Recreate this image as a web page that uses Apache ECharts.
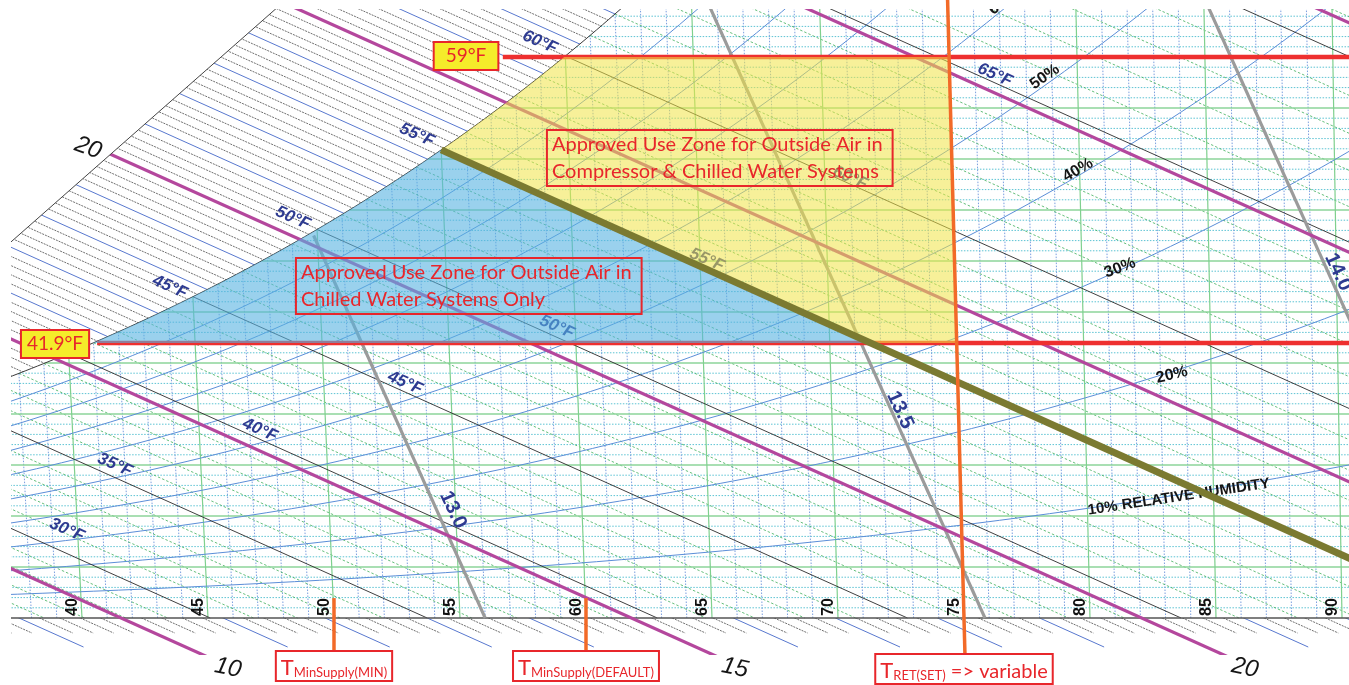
<!DOCTYPE html>
<html>
<head>
<meta charset="utf-8">
<script src="https://cdn.jsdelivr.net/npm/echarts@6/dist/echarts.min.js"></script>
<style>
html,body{margin:0;padding:0;background:#ffffff;}
#chart{width:1349px;height:685px;}
</style>
</head>
<body>
<div id="chart"></div>
<script>
// ================= values =================
// dry-bulb temperature (deg F) ticks along the bottom
const dryBulbTicks = [40, 45, 50, 55, 60, 65, 70, 75, 80, 85, 90];
// humidity ratio grid (0.001 lb/lb)
const humidityMajor = [1, 2, 3, 4, 5, 6, 7, 8, 9, 10, 11, 12];
// relative humidity curves
const rhLevels = [0.1, 0.2, 0.3, 0.4, 0.5, 0.6, 0.7, 0.8, 0.9];
// wet-bulb lines (deg F); 55 is the highlighted olive line
const wetBulbMajor = [25, 30, 35, 40, 45, 50, 60, 65, 70];
const wetBulbHighlight = 55;
// enthalpy lines (Btu/lb)
const enthalpyMajor = [10, 15, 20, 25, 30, 35];
const enthalpyLabels = ['10', '15', '20', '20'];
const enthalpyLabelPos = [[45.79, -0.98], [65.91, -0.98], [86.15, -0.98], [40.24, 9.216]];
// enthalpy scale: [reference Btu/lb, dry-bulb at W=0, deg F per Btu/lb]
const enthalpyRef = [10, 41.55, 4.05];
// outer edge of the enthalpy scale
const enthalpyEdge = [[37.18, 7.373], [47.68, 11.94]];
// specific volume lines (ft3/lb)
const volumeLevels = [13.0, 13.5, 14.0];
const volumeLabels = ['13.0', '13.5', '14.0'];
const volumeLabelPos = [[54.72, 2.118], [72.46, 4.078], [89.84, 6.784]];
// wet-bulb labels
const wbLabels = ['30°F', '35°F', '40°F', '45°F', '50°F', '55°F', '60°F', '65°F', '45°F', '50°F', '55°F', '60°F'];
const wbLabelPos = [[39.40, 1.725], [41.31, 3.0], [47.06, 3.686], [52.82, 4.608], [58.85, 5.706], [64.80, 7.02],
                    [70.48, 8.627], [76.23, 10.647], [43.49, 6.49], [48.37, 7.84], [53.29, 9.47], [58.17, 11.29]];
// relative humidity labels
const rhLabels = ['60%', '50%', '40%', '30%', '20%', '10% RELATIVE HUMIDITY'];
const rhLabelPos = [[76.55, 12.08], [78.21, 10.61], [79.52, 8.784], [81.19, 6.863], [83.25, 4.765], [83.53, 2.373]];
const rhLabelRot = [38, 35, 30, 21, 13, 8.5];
// annotation values
const dewLow = 5.392, dewHigh = 11.0;          // humidity ratio of the two red limit lines
const redStartX = [40.6, 56.7];
const dewBoxText = ['41.9°F', '59°F'];
const dewBoxPos = [[38.93, 5.373], [55.24, 11.02]];
const zoneTexts = ['Approved Use Zone for Outside Air in\nCompressor & Chilled Water Systems',
                   'Approved Use Zone for Outside Air in\nChilled Water Systems Only'];
const zoneTextPos = [[58.45, 9.569], [48.49, 7.059]];
const tRet = 75, tSupplyMin = 50, tSupplyDefault = 60;
const supplyTickTop = 0.39, labelTop = -0.667;

// ================= chart frame =================
const X_MIN = 37.183, X_MAX = 90.278, Y_MIN = -0.7255, Y_MAX = 11.941;
const P = 101.325;
const SLOPE = -0.2222;
function psat(T) { const c = (T - 32) / 1.8; return c >= 0 ? 0.61094 * Math.exp(17.625 * c / (c + 243.04)) : 0.61115 * Math.exp(22.452 * c / (272.55 + c)); }
function wRH(T, rh) { const pw = rh * psat(T); return 1000 * 0.622 * pw / (P - pw); }
function dewT(Y) { const w = Y / 1000, pw = w * P / (0.622 + w); let L = Math.log(pw / 0.61094), c = 243.04 * L / (17.625 - L); if (c < 0) { L = Math.log(pw / 0.61115); c = 272.55 * L / (22.452 - L); } return c * 1.8 + 32; }
function skew(T) { return 0.095 - 0.001375 * (T - 45); }
function proj(T, Y) { return [T - skew(T) * Y, Y]; }
function steps(a, b, s) { const r = []; for (let i = 0; ; i++) { const v = +(a + i * s).toFixed(4); if (v > b + 1e-9) break; r.push(v); } return r; }
function hX(h) { return enthalpyRef[1] + enthalpyRef[2] * (h - enthalpyRef[0]); }
function alongH(x0, Y) { return [x0 + Y / SLOPE, Y]; }
function satPts(a, b, s) { const r = steps(a, b, s).map(T => proj(T, wRH(T, 1))); r.push(proj(b, wRH(b, 1))); return r; }
function wbLine(t) { const S = proj(t, wRH(t, 1)); return [S, [S[0] + S[1] / (-SLOPE), 0]]; }
function isInt(v) { return Math.abs(v - Math.round(v)) < 1e-6; }

function polySeries(lines, style, z, clip, type) {
  return {
    type: 'custom', coordinateSystem: 'cartesian2d', silent: true, z: z, clip: clip !== false,
    data: lines.map((l, i) => [l[0][0], l[0][1], i]),
    renderItem: function (p, api) {
      const pts = lines[p.dataIndex].map(q => api.coord(q));
      return { type: type || 'polyline', shape: { points: pts }, style: Object.assign({ fill: null }, style) };
    }
  };
}
function textSeries(items, z, clip) {
  return {
    type: 'custom', coordinateSystem: 'cartesian2d', silent: true, z: z, clip: !!clip,
    data: items.map((it, i) => [it.pos[0], it.pos[1], i]),
    renderItem: function (p, api) {
      const it = items[p.dataIndex];
      const c = api.coord(it.pos);
      return {
        type: 'text', x: c[0] + (it.dx || 0), y: c[1] + (it.dy || 0), rotation: (it.rot || 0) * Math.PI / 180,
        style: Object.assign({ text: it.text, align: 'center', verticalAlign: 'middle' }, it.style)
      };
    }
  };
}

// ---------- hatch of the enthalpy scale ----------
const fineH = steps(8, 30, 0.2);
const hatchBlack = [], hatchBlue = [], tickBlack = [], tickBlue = [];
fineH.forEach(h => {
  if (isInt(h / 5)) return;
  const x0 = hX(h);
  const up = [alongH(x0, 14), [x0, 0]];
  if (isInt(h)) { hatchBlue.push(up); tickBlue.push([[x0, 0], alongH(x0, -0.569)]); }
  else { hatchBlack.push(up); tickBlack.push([[x0, 0], alongH(x0, -0.294)]); }
});
const purpleLines = enthalpyMajor.map(h => [alongH(hX(h), 14), alongH(hX(h), -1.2)]);

// ---------- masks ----------
const satAll = satPts(28, 64, 0.25);
const mainMask = [satAll.concat([[95, satAll[satAll.length - 1][1]], [95, 0], [satAll[0][0], 0]])];
const e0 = enthalpyEdge[0], e1 = enthalpyEdge[1], ed = [e1[0] - e0[0], e1[1] - e0[1]];
const eA = [e0[0] - ed[0], e0[1] - ed[1]], eB = [e1[0] + ed[0], e1[1] + ed[1]];
const outerMask = [[eA, eB, [eA[0], eB[1]]]];
const edgeLine = [[eA, eB]];

// ---------- grid ----------
const dbMinor = [], dbMajor = [];
steps(36, 92, 1).forEach(T => {
  const l = [proj(T, 0), proj(T, Math.min(wRH(T, 1), 12.5))];
  (isInt(T / 5) ? dbMajor : dbMinor).push(l);
});
const hMinor = [], hMajor = [];
steps(0.2, 12, 0.2).forEach(Y => {
  const l = [proj(dewT(Y), Y), [95, Y]];
  (isInt(Y) ? hMajor : hMinor).push(l);
});
const wbMinor = steps(20, 74, 1).filter(t => !isInt(t / 5)).map(wbLine);
const wbMajorLines = wetBulbMajor.map(wbLine);
const rhLines = rhLevels.map(rh => steps(28, 96, 0.5).map(T => proj(T, wRH(T, rh))));
const volLines = volumeLevels.map(v => {
  const pts = [];
  for (let Y = 0; Y <= 14; Y += 0.1) {
    const T = v * 14.696 / (0.370486 * (1 + 1.607858 * Y / 1000)) - 459.67;
    if (Y > wRH(T, 1)) break;
    pts.push(proj(T, Y));
  }
  return pts;
});
const axisLine = [[[X_MIN, 0], [X_MAX, 0]]];

// ---------- zones & annotation lines ----------
const S55 = proj(wetBulbHighlight, wRH(wetBulbHighlight, 1));
function oliveAt(Y) { return [S55[0] + (S55[1] - Y) / (-SLOPE), Y]; }
const blueZone = [satPts(dewT(dewLow), wetBulbHighlight, 0.25).concat([oliveAt(dewLow)])];
const yellowZone = [[S55].concat(satPts(wetBulbHighlight, dewT(dewHigh), 0.25))
  .concat([proj(tRet, dewHigh), proj(tRet, dewLow), oliveAt(dewLow)])];
const oliveLine = [[S55, oliveAt(-1)]];
const redLines = [[[redStartX[0], dewLow], [95, dewLow]], [[redStartX[1], dewHigh], [95, dewHigh]]];
const orangeRet = [[proj(tRet, -0.7255), proj(tRet, 12.3)]];
const orangeTicks = [tSupplyMin, tSupplyDefault].map(T => [[T, supplyTickTop], [T, labelTop]]);

// ---------- labels ----------
const WB_FONT = 'italic bold 17px "Liberation Sans", Arial, sans-serif';
const wbItems = wbLabels.map((t, i) => ({ text: t, pos: wbLabelPos[i], rot: -24, style: { font: WB_FONT, fill: '#2e3b91' } }));
const volItems = volumeLabels.map((t, i) => ({ text: t, pos: volumeLabelPos[i], rot: -65, style: { font: 'bold 20px "Liberation Sans", Arial, sans-serif', fill: '#2e3b91' } }));
const rhItems = rhLabels.map((t, i) => ({ text: t, pos: rhLabelPos[i], rot: rhLabelRot[i], style: { font: 'bold ' + (i === 5 ? 15 : 16) + 'px "Liberation Sans", Arial, sans-serif', fill: '#151515' } }));
const dbItems = dryBulbTicks.map(T => ({ text: String(T), pos: [T, 0], dx: -9, dy: -11, rot: 90, style: { font: 'bold 16px "Liberation Sans", Arial, sans-serif', fill: '#111' } }));
const hItems = enthalpyLabels.map((t, i) => ({ text: t, pos: enthalpyLabelPos[i], rot: i === 3 ? -20 : -12, style: { font: 'italic 24px "Liberation Sans", Arial, sans-serif', fill: '#161616' } }));
const RED = '#e8262b';
const dewItems = dewBoxText.map((t, i) => ({ text: t, pos: dewBoxPos[i], style: {
  font: '19px Lato, "Liberation Sans", sans-serif', fill: RED, backgroundColor: '#f5ec2a', borderColor: RED, borderWidth: 2,
  padding: i === 0 ? [3, 5, 2, 5] : [3, 11, 2, 11], lineHeight: 21 } }));
const zoneItems = zoneTexts.map((t, i) => ({ text: t, pos: zoneTextPos[i], style: {
  font: '20px Lato, "Liberation Sans", sans-serif', fill: RED, align: 'left', verticalAlign: 'top',
  borderColor: RED, borderWidth: 2, padding: [1, 10, 1, 5], lineHeight: 27 } }));
const subRich = {
  t: { font: '22px Lato, "Liberation Sans", sans-serif', fill: RED, lineHeight: 26, verticalAlign: 'bottom' },
  s: { font: '13px Lato, "Liberation Sans", sans-serif', fill: RED, lineHeight: 14, verticalAlign: 'bottom' },
  v: { font: '20px Lato, "Liberation Sans", sans-serif', fill: RED, lineHeight: 25, verticalAlign: 'bottom' }
};
const boxStyle = { backgroundColor: '#ffffff', borderColor: RED, borderWidth: 2, padding: [1, 4, 1, 4], verticalAlign: 'top', rich: subRich };
const bottomItems = [
  { text: '{t|T}{s|MinSupply(MIN)}', pos: [tSupplyMin, labelTop], style: boxStyle },
  { text: '{t|T}{s|MinSupply(DEFAULT)}', pos: [tSupplyDefault, labelTop], style: boxStyle },
  { text: '{t|T}{s|RET(SET)}{v| => variable}', pos: [tRet, -0.7255], style: boxStyle }
];

const series = [
  polySeries(hatchBlack, { stroke: '#4a4a4a', lineWidth: 0.8, lineDash: [2, 1] }, 1),
  polySeries(hatchBlue, { stroke: '#5878cf', lineWidth: 1 }, 1),
  polySeries(tickBlack, { stroke: '#4a4a4a', lineWidth: 0.8, lineDash: [2, 1] }, 1),
  polySeries(tickBlue, { stroke: '#5878cf', lineWidth: 1 }, 1),
  polySeries(mainMask, { fill: '#ffffff', stroke: null }, 2, true, 'polygon'),
  polySeries(hMinor, { stroke: '#5cc3d3', lineWidth: 1, lineDash: [1.5, 1.5] }, 3),
  polySeries(dbMinor, { stroke: '#7a9fe0', lineWidth: 1, lineDash: [1.5, 1.5] }, 3),
  polySeries(wbMinor, { stroke: '#3fae5a', lineWidth: 0.8, lineDash: [2.5, 2] }, 3),
  polySeries(hMajor, { stroke: '#8cd49a', lineWidth: 1.3 }, 3),
  polySeries(dbMajor, { stroke: '#7fd08e', lineWidth: 1.2 }, 3),
  polySeries(rhLines, { stroke: '#5b8ed8', lineWidth: 1 }, 3),
  polySeries(wbMajorLines, { stroke: '#2a2a2a', lineWidth: 0.9 }, 3),
  polySeries([satAll], { stroke: '#3a3a3a', lineWidth: 1 }, 3),
  polySeries(axisLine, { stroke: '#555', lineWidth: 1.3 }, 3),
  polySeries(volLines, { stroke: '#9b9b9b', lineWidth: 3.2 }, 4),
  polySeries(purpleLines, { stroke: '#b4479d', lineWidth: 3.2 }, 4),
  polySeries(outerMask, { fill: '#ffffff', stroke: null }, 4, true, 'polygon'),
  polySeries(edgeLine, { stroke: '#444', lineWidth: 1 }, 4),
  textSeries(wbItems, 5, true),
  textSeries(volItems, 5, true),
  textSeries(rhItems, 5, true),
  polySeries(redLines, { stroke: '#ee2f2f', lineWidth: 4.5 }, 5),
  polySeries(blueZone, { fill: 'rgba(87,178,225,0.6)', stroke: null }, 6, true, 'polygon'),
  polySeries(yellowZone, { fill: 'rgba(240,228,70,0.55)', stroke: null }, 6, true, 'polygon'),
  polySeries(oliveLine, { stroke: '#7b7a31', lineWidth: 7 }, 7),
  polySeries(orangeRet, { stroke: '#f26a28', lineWidth: 3.5 }, 7, false),
  polySeries(orangeTicks, { stroke: '#f26a28', lineWidth: 3.5 }, 7, false),
  textSeries(dbItems, 8, false),
  textSeries(hItems, 8, false),
  textSeries(dewItems, 8, false),
  textSeries(zoneItems, 8, false),
  textSeries(bottomItems, 8, false)
];

const chart = echarts.init(document.getElementById('chart'), null, { renderer: 'canvas' });
chart.setOption({
  animation: false,
  backgroundColor: '#ffffff',
  grid: { left: 11, right: 0, top: 9, bottom: 30, containLabel: false },
  xAxis: { type: 'value', min: X_MIN, max: X_MAX, show: false },
  yAxis: { type: 'value', min: Y_MIN, max: Y_MAX, show: false },
  series: series
});
</script>
</body>
</html>
